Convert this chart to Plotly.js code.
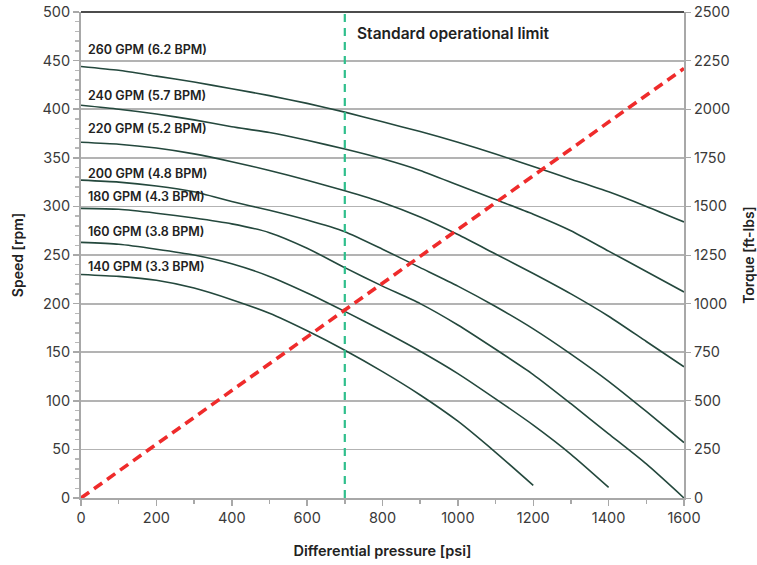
<!DOCTYPE html>
<html>
<head>
<meta charset="utf-8">
<script src="https://cdn.plot.ly/plotly-3.0.1.min.js"></script>
<style>html,body{margin:0;padding:0;background:#fff}#chart{width:757px;height:565px}</style>
</head>
<body>
<div id="chart"></div>
<script>
const pressure = [0,100,200,300,400,500,600,700,800,900,1000,1100,1200,1300,1400,1500,1600];
const seriesNames = ["260 GPM (6.2 BPM)","240 GPM (5.7 BPM)","220 GPM (5.2 BPM)","200 GPM (4.8 BPM)","180 GPM (4.3 BPM)","160 GPM (3.8 BPM)","140 GPM (3.3 BPM)"];
const speed260 = [444,440,434,428,421,414,406,397,387,377,366,354,341,328,315,300,284];
const speed240 = [404,400,395,389,382,376,368,359,349,337,322,307,292,275,254,233,212];
const speed220 = [366,364,360,354,346,337,327,316,304,289,271,251,231,210,187,161,135];
const speed200 = [327,325,321,315,305,296,286,274,256,237,218,197,174,148,120,89,57];
const speed180 = [298,297,293,288,282,273,257,237,218,200,178,153,127,97,66,35,0];
const speed160 = [263,261,256,250,241,228,211,192,172,151,128,102,75,45,11];
const speed140 = [230,228,224,216,204,190,172,152,130,106,79,47,13];
const labelY = [461,414,380,334,310,274,238];
const torquePressure = [0,1600];
const torqueValues = [0,2210];
const limitPressure = 700;
const limitLabel = "Standard operational limit";
const speedTicks = [0,50,100,150,200,250,300,350,400,450,500];
const torqueTicks = [0,250,500,750,1000,1250,1500,1750,2000,2250,2500];

const allSpeeds = [speed260,speed240,speed220,speed200,speed180,speed160,speed140];
const curveColor = "#24483d";
const traces = allSpeeds.map((s,i)=>({
  x: pressure.slice(0,s.length), y: s, type:"scatter", mode:"lines",
  name: seriesNames[i], line:{color:curveColor,width:1.6, shape:"spline", smoothing:0.6}, hoverinfo:"skip"
}));
traces.push({x:[limitPressure,limitPressure], y:[0,500], type:"scatter", mode:"lines",
  line:{color:"#2fbf8c", width:2.2, dash:"8px,6px"}, hoverinfo:"skip"});
traces.push({x:torquePressure, y:torqueValues, type:"scatter", mode:"lines", yaxis:"y2",
  line:{color:"#ef2b2b", width:3.6, dash:"10px,6px"}, hoverinfo:"skip"});

const fontFam = "Inter, 'Open Sans', sans-serif";
const annotations = seriesNames.map((n,i)=>({
  x:14, y:labelY[i], xref:"x", yref:"y", text:n, showarrow:false, xanchor:"left", yanchor:"middle",
  font:{family:fontFam, size:12.5, color:"#222", weight:600}
}));
annotations.push({x:727, y:478, xref:"x", yref:"y", text:limitLabel, showarrow:false, xanchor:"left", yanchor:"middle",
  font:{family:fontFam, size:15.5, color:"#222", weight:600}});

const layout = {
  width:757, height:565,
  margin:{l:81, r:73, t:12, b:67},
  paper_bgcolor:"#fff", plot_bgcolor:"#fff",
  showlegend:false,
  font:{family:fontFam, color:"#333", size:14},
  xaxis:{range:[0,1600], dtick:200, tick0:0, showgrid:false, zeroline:false,
    showline:true, linecolor:"#a8a8a8", linewidth:2, ticks:"outside", ticklen:6, tickcolor:"#a8a8a8", tickwidth:1.5,
    minor:{dtick:100, ticks:"outside", ticklen:4, tickcolor:"#a8a8a8", showgrid:false},
    tickfont:{size:14.5, color:"#3a3a3a"},
    title:{text:"Differential pressure [psi]", standoff:20, font:{size:14.5, color:"#222", weight:600}}},
  yaxis:{range:[0,500], tickvals:speedTicks, showgrid:true, gridcolor:"#b3b3b3", gridwidth:1.8, zeroline:false,
    showline:true, linecolor:"#a8a8a8", linewidth:2, ticks:"outside", ticklen:6, tickcolor:"#a8a8a8", tickwidth:1.5,
    minor:{dtick:10, ticks:"outside", ticklen:4, tickcolor:"#b8b8b8", showgrid:false},
    tickfont:{size:14.5, color:"#3a3a3a"},
    title:{text:"Speed [rpm]", standoff:16, font:{size:14, color:"#222", weight:600}}},
  yaxis2:{range:[0,2500], tickvals:torqueTicks, overlaying:"y", side:"right", showgrid:false, zeroline:false,
    showline:true, linecolor:"#a8a8a8", linewidth:2, ticks:"outside", ticklen:5, tickcolor:"#a8a8a8",
    tickfont:{size:14.5, color:"#3a3a3a"},
    title:{text:"Torque [ft-lbs]", standoff:16, font:{size:14, color:"#222", weight:600}}},
  shapes:[{type:"line", xref:"paper", yref:"paper", x0:0, x1:1, y0:1, y1:1, line:{color:"#111", width:1.5}}],
  annotations: annotations
};
Plotly.newPlot("chart", traces, layout, {displayModeBar:false, staticPlot:true});
</script>
</body>
</html>
